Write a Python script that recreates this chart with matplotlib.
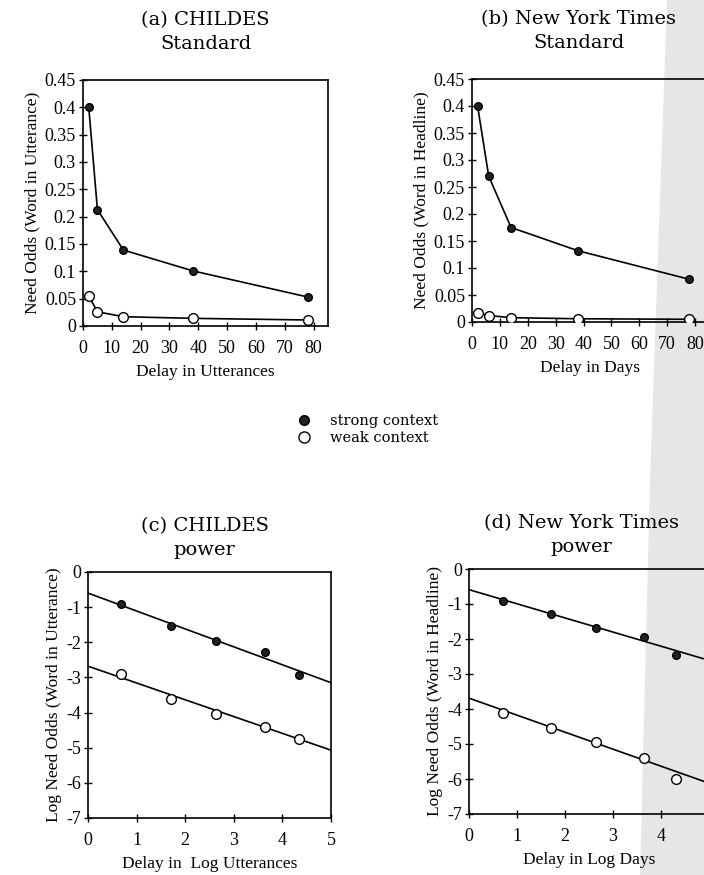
import matplotlib.pyplot as plt
from matplotlib.patches import Polygon
from matplotlib.lines import Line2D

plt.rcParams['axes.unicode_minus'] = False

# Panel (a) CHILDES, standard scale
childes_delay = [2, 5, 14, 38, 78]
childes_strong = [0.40, 0.213, 0.139, 0.101, 0.053]
childes_weak = [0.055, 0.026, 0.017, 0.014, 0.011]

# Panel (b) New York Times, standard scale
nyt_delay = [2, 6, 14, 38, 78]
nyt_strong = [0.40, 0.27, 0.175, 0.132, 0.079]
nyt_weak = [0.017, 0.012, 0.008, 0.006, 0.005]

# Panel (c) CHILDES, log-log
childes_logdelay = [0.68, 1.71, 2.64, 3.64, 4.35]
childes_log_strong = [-0.91, -1.53, -1.95, -2.28, -2.94]
childes_log_weak = [-2.90, -3.61, -4.05, -4.42, -4.74]
childes_fit_x = [0, 5]
childes_fit_strong = [-0.60, -3.15]
childes_fit_weak = [-2.68, -5.07]

# Panel (d) New York Times, log-log
nyt_logdelay = [0.70, 1.71, 2.64, 3.64, 4.32]
nyt_log_strong = [-0.91, -1.28, -1.69, -1.94, -2.45]
nyt_log_weak = [-4.12, -4.55, -4.95, -5.40, -5.99]
nyt_fit_x = [0, 5]
nyt_fit_strong = [-0.59, -2.61]
nyt_fit_weak = [-3.69, -6.12]

std_yticks = [0, 0.05, 0.1, 0.15, 0.2, 0.25, 0.3, 0.35, 0.4, 0.45]
std_ylabels = ['0', '0.05', '0.1', '0.15', '0.2', '0.25', '0.3', '0.35', '0.4', '0.45']
log_yticks = [0, -1, -2, -3, -4, -5, -6, -7]

TICK_FONT = 'Liberation Serif'
TITLE_FONT = 'DejaVu Serif'

fig = plt.figure(figsize=(7.04, 8.75), dpi=100)

# scan shadow along the right edge
shade = Polygon([(667 / 704, 1), (1, 1), (1, 0), (640 / 704, 0), (650 / 704, 0.45)],
                closed=True, transform=fig.transFigure, facecolor='#e6e6e6',
                edgecolor='none', zorder=-1)
fig.patches.append(shade)


def style_axes(ax, title, xlabel, ylabel, title_pad=22):
    ax.set_facecolor('none')
    ax.set_title(title, fontfamily=TITLE_FONT, fontsize=14, pad=title_pad, linespacing=1.45)
    ax.set_xlabel(xlabel, fontfamily=TICK_FONT, fontsize=12.5, labelpad=5)
    ax.set_ylabel(ylabel, fontfamily=TICK_FONT, fontsize=12.5, labelpad=3)
    ax.tick_params(direction='inout', length=6, width=1, labelsize=13)
    ax.tick_params(axis='x', pad=7)
    ax.tick_params(axis='y', pad=2)
    for lab in ax.get_xticklabels() + ax.get_yticklabels():
        lab.set_fontfamily(TICK_FONT)
    for sp in ax.spines.values():
        sp.set_linewidth(1.2)


def plot_series(ax, x, strong, weak, connect=True):
    ls = '-' if connect else 'none'
    ax.plot(x, strong, linestyle=ls, color='black', lw=1.2, marker='o',
            markersize=5.5, markerfacecolor='#222222', markeredgecolor='black', zorder=3)
    ax.plot(x, weak, linestyle=ls, color='black', lw=1.2, marker='o',
            markersize=7, markerfacecolor='white', markeredgecolor='black', zorder=3)


# (a)
ax_a = fig.add_axes([83 / 704, 1 - 326 / 875, 245 / 704, 246 / 875])
plot_series(ax_a, childes_delay, childes_strong, childes_weak)
ax_a.set_xlim(0, 85)
ax_a.set_ylim(0, 0.45)
ax_a.set_xticks(range(0, 81, 10))
ax_a.set_yticks(std_yticks)
ax_a.set_yticklabels(std_ylabels)
style_axes(ax_a, '(a) CHILDES\nStandard', 'Delay in Utterances',
           'Need Odds (Word in Utterance)')

# (b)
ax_b = fig.add_axes([472 / 704, 1 - 322 / 875, 237 / 704, 243 / 875])
plot_series(ax_b, nyt_delay, nyt_strong, nyt_weak)
ax_b.set_xlim(0, 85)
ax_b.set_ylim(0, 0.45)
ax_b.set_xticks(range(0, 81, 10))
ax_b.set_yticks(std_yticks)
ax_b.set_yticklabels(std_ylabels)
style_axes(ax_b, '(b) New York Times\nStandard', 'Delay in Days',
           'Need Odds (Word in Headline)')
ax_b.title.set_x(0.45)

# (c)
ax_c = fig.add_axes([88 / 704, 1 - 818 / 875, 243 / 704, 246 / 875])
plot_series(ax_c, childes_logdelay, childes_log_strong, childes_log_weak, connect=False)
ax_c.plot(childes_fit_x, childes_fit_strong, color='black', lw=1.2)
ax_c.plot(childes_fit_x, childes_fit_weak, color='black', lw=1.2)
ax_c.set_xlim(0, 5)
ax_c.set_ylim(-7, 0)
ax_c.set_xticks(range(0, 6))
ax_c.set_yticks(log_yticks)
style_axes(ax_c, '(c) CHILDES\npower', 'Delay in  Log Utterances',
           'Log Need Odds (Word in Utterance)', title_pad=12)
ax_c.title.set_x(0.48)

# (d)
ax_d = fig.add_axes([469 / 704, 1 - 814 / 875, 240 / 704, 245 / 875])
plot_series(ax_d, nyt_logdelay, nyt_log_strong, nyt_log_weak, connect=False)
ax_d.plot(nyt_fit_x, nyt_fit_strong, color='black', lw=1.2)
ax_d.plot(nyt_fit_x, nyt_fit_weak, color='black', lw=1.2)
ax_d.set_xlim(0, 5)
ax_d.set_ylim(-7, 0)
ax_d.set_xticks(range(0, 5))
ax_d.set_yticks(log_yticks)
style_axes(ax_d, '(d) New York Times\npower', 'Delay in Log Days',
           'Log Need Odds (Word in Headline)', title_pad=12)
ax_d.title.set_x(0.47)

# shared legend
handles = [
    Line2D([], [], linestyle='none', marker='o', markersize=7,
           markerfacecolor='#222222', markeredgecolor='black'),
    Line2D([], [], linestyle='none', marker='o', markersize=8,
           markerfacecolor='white', markeredgecolor='black'),
]
fig.legend(handles, ['strong context', 'weak context'], loc='upper left',
           bbox_to_anchor=(276 / 704, 1 - 401 / 875), frameon=False,
           handletextpad=0.8, labelspacing=0.2,
           prop={'family': TITLE_FONT, 'size': 10.5})

fig.savefig('out.png', dpi=100)
